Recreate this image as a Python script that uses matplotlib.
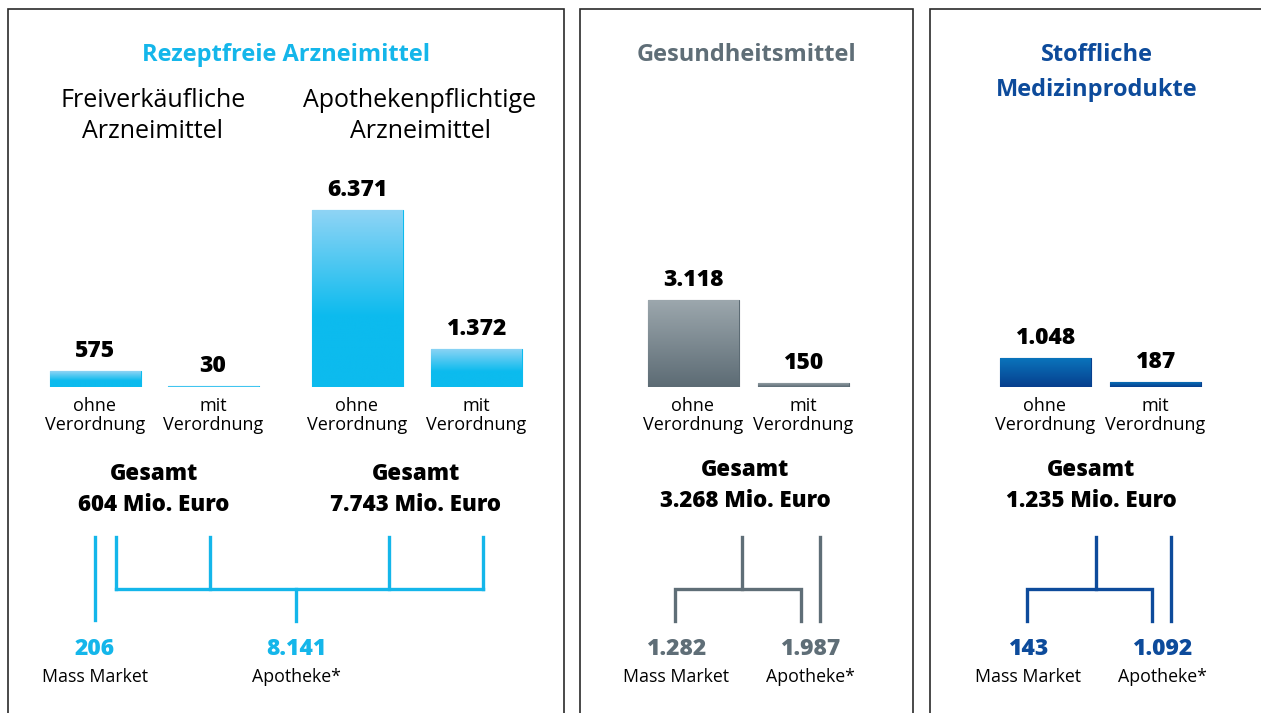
import numpy as np
import matplotlib
matplotlib.use("Agg")
import matplotlib.pyplot as plt
from matplotlib.colors import LinearSegmentedColormap

plt.rcParams['font.family'] = ['Open Sans', 'DejaVu Sans']

# Umsatz in Mio. Euro
p1_values = [575, 30, 6371, 1372]      # freiverkäuflich ohne/mit, apothekenpflichtig ohne/mit
p2_values = [3118, 150]                # Gesundheitsmittel ohne/mit
p3_values = [1048, 187]                # Medizinprodukte ohne/mit
totals = [604, 7743, 3268, 1235]
p1_channels = [206, 8141]              # Mass Market, Apotheke
p2_channels = [1282, 1987]
p3_channels = [143, 1092]

LB = '#14b6ea'
GR = '#5f6e77'
DB = '#0d4b9b'

W, H = 1261, 713
BASE = 387           # y-Pixel der Balkenbasis
PX = 177 / 6371      # Pixel pro Mio. Euro
HEAVY = 800


def fmt(v):
    return f"{v:,}".replace(",", ".")


fig = plt.figure(figsize=(W / 100, H / 100), dpi=100)
ax = fig.add_axes([0, 0, 1, 1])
ax.set_xlim(0, W)
ax.set_ylim(H, 0)
ax.axis('off')

bx = fig.add_axes([0, (H - BASE) / H, 1, 200 / H])
bx.patch.set_alpha(0)


def txt(x, y, s, size, color='black', weight='normal'):
    ax.text(x, y, s, ha='center', va='baseline', fontsize=size, color=color,
            fontweight=weight)


# Rahmen der drei Felder
for x0, x1 in [(8, 564), (580, 913), (930, 1275)]:
    ax.plot([x0, x0, x1, x1], [H + 5, 9, 9, H + 5], color='#2a2a2a', lw=1.2,
            solid_joinstyle='miter')


def bars(xs, vals, top, bottom, frac):
    n = 256
    cmap = LinearSegmentedColormap.from_list('g', [bottom, top])
    # unten kräftig, oben heller Verlauf
    grad = np.clip((np.linspace(0, 1, n) - (1 - frac)) / frac, 0, 1)[:, None]
    rects = bx.bar(xs, vals, width=91, color=bottom, edgecolor=bottom, lw=0.8, zorder=1)
    for r, v in zip(rects, vals):
        im = bx.imshow(grad, extent=(r.get_x(), r.get_x() + r.get_width(), 0, v),
                       aspect='auto', cmap=cmap, origin='lower', zorder=2,
                       interpolation='bilinear')
        im.set_clip_path(r)
        bx.annotate(fmt(v), (r.get_x() + r.get_width() / 2, v), xytext=(0, 10),
                    textcoords='offset points', ha='center', va='baseline',
                    fontsize=16.5, fontweight=HEAVY, color='black')


bars([95, 213, 357, 476], p1_values, '#8fd4f5', '#0cbbee', 0.6)
bars([693, 803], p2_values, '#9ca7ad', '#5c6b74', 1.0)
bars([1045, 1155], p3_values, '#0a76bd', '#073f8e', 1.0)

bx.set_xlim(0, W)
bx.set_ylim(0, 200 / PX)
bx.axis('off')

# Titel
txt(286, 61, 'Rezeptfreie Arzneimittel', 17, LB, 'bold')
txt(746, 61, 'Gesundheitsmittel', 17, GR, 'bold')
txt(1097, 61, 'Stoffliche', 17, DB, 'bold')
txt(1097, 96, 'Medizinprodukte', 17, DB, 'bold')
txt(153, 107, 'Freiverkäufliche', 18)
txt(153, 138, 'Arzneimittel', 18)
txt(420, 107, 'Apothekenpflichtige', 18)
txt(420, 138, 'Arzneimittel', 18)

# Beschriftung unter den Balken
for x, lab in zip([95, 213, 357, 476, 693, 803, 1045, 1155],
                  ['ohne', 'mit'] * 4):
    txt(x, 411, lab, 13)
    txt(x, 430, 'Verordnung', 13)

# Gesamtsummen
for x, y, t in zip([154, 416, 745, 1091], [480, 480, 476, 476], totals):
    txt(x, y, 'Gesamt', 16, weight=HEAVY)
    txt(x, y + 31, f'{fmt(t)} Mio. Euro', 16, weight=HEAVY)

# Verteilung auf die Vertriebswege
lw = 2.4
for xs in [95, 116, 210, 389, 483]:
    ax.plot([xs, xs], [537, 620 if xs == 95 else 589], color=LB, lw=lw)
ax.plot([116, 483], [589, 589], color=LB, lw=lw, solid_capstyle='projecting')
ax.plot([296, 296], [589, 621], color=LB, lw=lw)

for cx, l, r, side, col in [(742, 675, 801, 820, GR), (1096, 1027, 1152, 1171, DB)]:
    ax.plot([cx, cx], [537, 589], color=col, lw=lw)
    ax.plot([l, l, r, r], [621, 589, 589, 621], color=col, lw=lw,
            solid_joinstyle='miter')
    ax.plot([side, side], [537, 621], color=col, lw=lw)

for (xm, xa), vals, col in [((95, 296), p1_channels, LB),
                            ((676, 810), p2_channels, GR),
                            ((1028, 1162), p3_channels, DB)]:
    txt(xm, 655, fmt(vals[0]), 16.5, col, HEAVY)
    txt(xa, 655, fmt(vals[1]), 16.5, col, HEAVY)
    txt(xm, 682, 'Mass Market', 12.8)
    txt(xa, 682, 'Apotheke*', 12.8)

fig.savefig('out.png', dpi=100)
